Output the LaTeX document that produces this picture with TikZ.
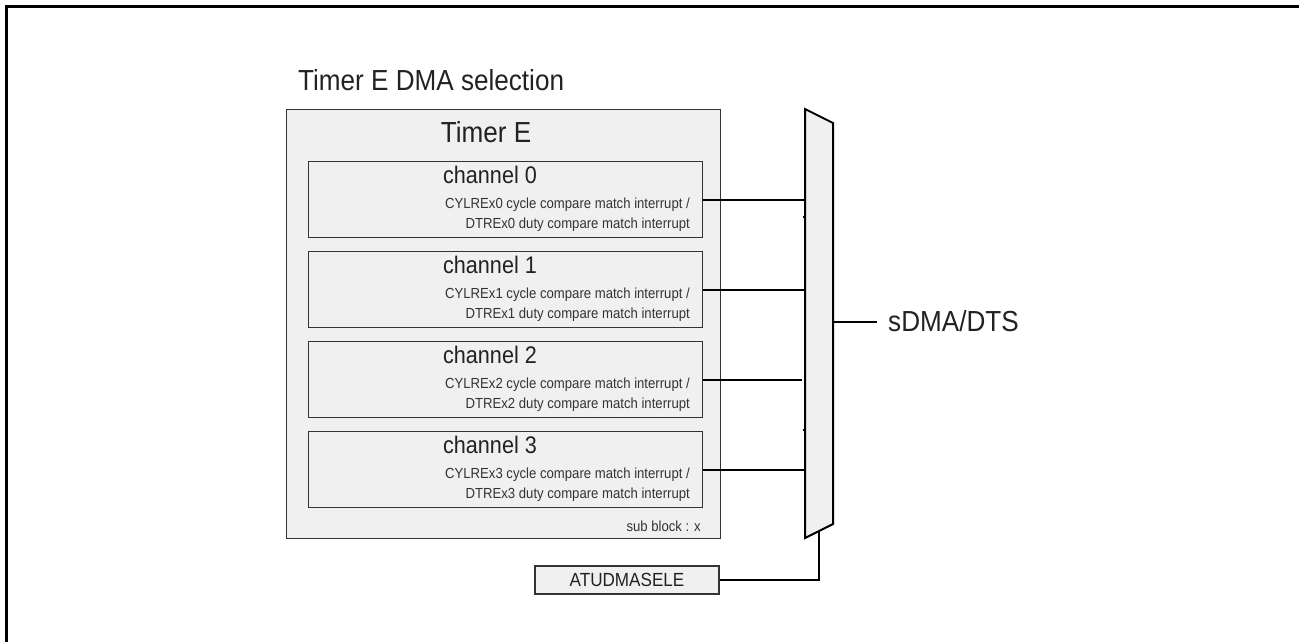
\documentclass[tikz,border=0pt]{standalone}
\usepackage{fontspec}
\setmainfont{Liberation Sans}[FakeStretch=0.9]
\definecolor{boxfill}{HTML}{F0F0F0}
\definecolor{boxline}{HTML}{333333}
\definecolor{txt}{HTML}{222222}
\newcommand{\fs}[1]{\fontsize{#1pt}{#1pt}\selectfont}
\tikzset{
  blk/.style={draw=boxline, fill=boxfill, line width=1.4pt, inner sep=0pt, anchor=north west},
  wire/.style={draw=black, line width=2pt},
  lbl/.style={inner sep=0pt, text=txt},
  big/.style={lbl, font=\fs{29}},
  chan/.style={lbl, font=\fs{24}},
  small/.style={lbl, font=\fs{14.6}, text=boxline},
}
\begin{document}
\begin{tikzpicture}[x=1pt, y=-1pt]
\useasboundingbox (0,0) rectangle (1299,641);
\begin{scope}
\clip (0,0) rectangle (1299,641);
\draw[line width=2.2pt] (6.5,660) -- (6.5,6.5) -- (1320,6.5);
\end{scope}

\node[big, anchor=base west] (title) at (298,90) {Timer E DMA selection};

\node[blk, minimum width=434pt, minimum height=429pt] (timer) at (286,109) {};
\node[big, anchor=base] (timerlbl) at (486,142) {Timer E};

\foreach \k in {0,1,2,3} {
  \pgfmathsetmacro{\top}{161+90*\k}
  \node[blk, minimum width=394pt, minimum height=76pt] (ch\k) at (308,\top) {};
  \node[chan, anchor=base] (chl\k) at (490,\top+22) {channel \k};
  \node[small, anchor=base east] (cy\k) at (690,\top+47) {CYLREx\k{} cycle compare match interrupt /};
  \node[small, anchor=base east] (dt\k) at (690,\top+67) {DTREx\k{} duty compare match interrupt};
}
\node[small, anchor=base east] (sub) at (701,531) {sub block : x};

% multiplexer
\coordinate (mTL) at (805,109);
\coordinate (mTR) at (833,123);
\coordinate (mBR) at (833,524);
\coordinate (mBL) at (805,538);
\filldraw[fill=boxfill, draw=black, line width=2pt, line join=miter] (mTL) -- (mTR) -- (mBR) -- (mBL) -- cycle;
\coordinate (mOut) at (833,322);
\coordinate (mSel) at (819,531);

% inputs
\foreach \k in {0,1,3} {
  \draw[wire] (ch\k.east) -- (ch\k.east -| mTL);
}
\coordinate (end2) at (802,0);
\draw[wire] (ch2.east) -- (ch2.east -| end2);

% small ticks on mux input edge
\draw[line width=2pt] (803,217) -- (806,217);
\draw[line width=2pt] (803,430) -- (806,430);

% output
\node[big, anchor=base west] (out) at (888,331) {sDMA/DTS};
\coordinate (outEnd) at (877,322);
\draw[wire] (mOut) -- (outEnd);

% select
\node[blk, minimum width=184pt, minimum height=28pt, anchor=center, font=\fs{19}, text=txt] (sel) at (627,580) {ATUDMASELE};
\draw[wire] (sel.east) -| (mSel);
\end{tikzpicture}
\end{document}
